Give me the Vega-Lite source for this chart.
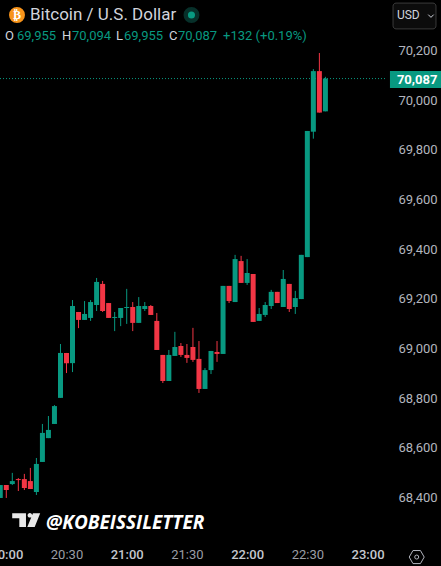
{
  "$schema": "https://vega.github.io/schema/vega-lite/v6.json",
  "description": "Bitcoin / U.S. Dollar 3 minute candles with TradingView style readout",
  "width": 441,
  "height": 566,
  "padding": 0,
  "autosize": "none",
  "background": "#000000",
  "config": {
    "view": {"stroke": null},
    "text": {"font": "Roboto"}
  },
  "datasets": {
    "candles": [
      {"time": "2024-06-04T19:57:00Z", "open": 68398, "high": 68450, "low": 68398, "close": 68450},
      {"time": "2024-06-04T20:00:00Z", "open": 68450, "high": 68450, "low": 68398, "close": 68430},
      {"time": "2024-06-04T20:03:00Z", "open": 68454, "high": 68499, "low": 68450, "close": 68466},
      {"time": "2024-06-04T20:06:00Z", "open": 68474, "high": 68478, "low": 68426, "close": 68470},
      {"time": "2024-06-04T20:09:00Z", "open": 68474, "high": 68495, "low": 68430, "close": 68438},
      {"time": "2024-06-04T20:12:00Z", "open": 68466, "high": 68519, "low": 68434, "close": 68434},
      {"time": "2024-06-04T20:15:00Z", "open": 68422, "high": 68559, "low": 68410, "close": 68535},
      {"time": "2024-06-04T20:18:00Z", "open": 68543, "high": 68696, "low": 68543, "close": 68660},
      {"time": "2024-06-04T20:21:00Z", "open": 68639, "high": 68728, "low": 68639, "close": 68672},
      {"time": "2024-06-04T20:24:00Z", "open": 68696, "high": 68772, "low": 68696, "close": 68768},
      {"time": "2024-06-04T20:27:00Z", "open": 68801, "high": 69018, "low": 68801, "close": 68982},
      {"time": "2024-06-04T20:30:00Z", "open": 68982, "high": 68982, "low": 68901, "close": 68941},
      {"time": "2024-06-04T20:33:00Z", "open": 68941, "high": 69195, "low": 68905, "close": 69171},
      {"time": "2024-06-04T20:36:00Z", "open": 69147, "high": 69147, "low": 69082, "close": 69115},
      {"time": "2024-06-04T20:39:00Z", "open": 69115, "high": 69191, "low": 69115, "close": 69139},
      {"time": "2024-06-04T20:42:00Z", "open": 69123, "high": 69195, "low": 69111, "close": 69187},
      {"time": "2024-06-04T20:45:00Z", "open": 69175, "high": 69284, "low": 69151, "close": 69268},
      {"time": "2024-06-04T20:48:00Z", "open": 69260, "high": 69272, "low": 69147, "close": 69151},
      {"time": "2024-06-04T20:51:00Z", "open": 69183, "high": 69183, "low": 69123, "close": 69123},
      {"time": "2024-06-04T20:54:00Z", "open": 69123, "high": 69147, "low": 69070, "close": 69127},
      {"time": "2024-06-04T20:57:00Z", "open": 69123, "high": 69163, "low": 69090, "close": 69163},
      {"time": "2024-06-04T21:00:00Z", "open": 69163, "high": 69240, "low": 69099, "close": 69167},
      {"time": "2024-06-04T21:03:00Z", "open": 69167, "high": 69187, "low": 69070, "close": 69103},
      {"time": "2024-06-04T21:06:00Z", "open": 69103, "high": 69207, "low": 69103, "close": 69171},
      {"time": "2024-06-04T21:09:00Z", "open": 69159, "high": 69187, "low": 69151, "close": 69171},
      {"time": "2024-06-04T21:12:00Z", "open": 69171, "high": 69175, "low": 69135, "close": 69135},
      {"time": "2024-06-04T21:15:00Z", "open": 69111, "high": 69143, "low": 68994, "close": 68994},
      {"time": "2024-06-04T21:18:00Z", "open": 68974, "high": 68974, "low": 68861, "close": 68869},
      {"time": "2024-06-04T21:21:00Z", "open": 68869, "high": 68994, "low": 68869, "close": 68974},
      {"time": "2024-06-04T21:24:00Z", "open": 68970, "high": 69067, "low": 68970, "close": 69006},
      {"time": "2024-06-04T21:27:00Z", "open": 69010, "high": 69022, "low": 68966, "close": 68974},
      {"time": "2024-06-04T21:30:00Z", "open": 68974, "high": 69018, "low": 68942, "close": 68962},
      {"time": "2024-06-04T21:33:00Z", "open": 69006, "high": 69083, "low": 68946, "close": 68954},
      {"time": "2024-06-04T21:36:00Z", "open": 68958, "high": 69030, "low": 68821, "close": 68837},
      {"time": "2024-06-04T21:39:00Z", "open": 68837, "high": 68921, "low": 68837, "close": 68913},
      {"time": "2024-06-04T21:42:00Z", "open": 68913, "high": 68990, "low": 68897, "close": 68990},
      {"time": "2024-06-04T21:45:00Z", "open": 68986, "high": 69030, "low": 68946, "close": 68978},
      {"time": "2024-06-04T21:48:00Z", "open": 68978, "high": 69252, "low": 68978, "close": 69252},
      {"time": "2024-06-04T21:51:00Z", "open": 69252, "high": 69252, "low": 69183, "close": 69191},
      {"time": "2024-06-04T21:54:00Z", "open": 69187, "high": 69377, "low": 69187, "close": 69360},
      {"time": "2024-06-04T21:57:00Z", "open": 69352, "high": 69373, "low": 69264, "close": 69264},
      {"time": "2024-06-04T22:00:00Z", "open": 69264, "high": 69360, "low": 69256, "close": 69304},
      {"time": "2024-06-04T22:03:00Z", "open": 69300, "high": 69300, "low": 69107, "close": 69107},
      {"time": "2024-06-04T22:06:00Z", "open": 69111, "high": 69163, "low": 69111, "close": 69139},
      {"time": "2024-06-04T22:09:00Z", "open": 69135, "high": 69187, "low": 69127, "close": 69175},
      {"time": "2024-06-04T22:12:00Z", "open": 69171, "high": 69236, "low": 69159, "close": 69228},
      {"time": "2024-06-04T22:15:00Z", "open": 69228, "high": 69228, "low": 69183, "close": 69183},
      {"time": "2024-06-04T22:18:00Z", "open": 69167, "high": 69316, "low": 69167, "close": 69280},
      {"time": "2024-06-04T22:21:00Z", "open": 69260, "high": 69260, "low": 69147, "close": 69159},
      {"time": "2024-06-04T22:24:00Z", "open": 69167, "high": 69232, "low": 69139, "close": 69203},
      {"time": "2024-06-04T22:27:00Z", "open": 69199, "high": 69377, "low": 69199, "close": 69377},
      {"time": "2024-06-04T22:30:00Z", "open": 69368, "high": 69876, "low": 69368, "close": 69876},
      {"time": "2024-06-04T22:33:00Z", "open": 69873, "high": 70125, "low": 69845, "close": 70117},
      {"time": "2024-06-04T22:36:00Z", "open": 70117, "high": 70190, "low": 69950, "close": 69950},
      {"time": "2024-06-04T22:39:00Z", "open": 69955, "high": 70094, "low": 69955, "close": 70087}
    ]
  },
  "encoding": {
    "x": {
      "field": "time",
      "type": "temporal",
      "title": null,
      "scale": {
        "type": "utc",
        "domain": [
          {"year": 2024, "month": 6, "date": 4, "hours": 19, "minutes": 56, "seconds": 52, "utc": true},
          {"year": 2024, "month": 6, "date": 4, "hours": 23, "minutes": 36, "seconds": 36, "utc": true}
        ],
        "nice": false,
        "padding": 0
      },
      "axis": {
        "orient": "bottom",
        "offset": -20,
        "domain": false,
        "ticks": false,
        "grid": false,
        "format": "%H:%M",
        "values": [
          {"year": 2024, "month": 6, "date": 4, "hours": 20, "minutes": 0, "utc": true},
          {"year": 2024, "month": 6, "date": 4, "hours": 20, "minutes": 30, "utc": true},
          {"year": 2024, "month": 6, "date": 4, "hours": 21, "minutes": 0, "utc": true},
          {"year": 2024, "month": 6, "date": 4, "hours": 21, "minutes": 30, "utc": true},
          {"year": 2024, "month": 6, "date": 4, "hours": 22, "minutes": 0, "utc": true},
          {"year": 2024, "month": 6, "date": 4, "hours": 22, "minutes": 30, "utc": true},
          {"year": 2024, "month": 6, "date": 4, "hours": 23, "minutes": 0, "utc": true}
        ],
        "labelFont": "Roboto",
        "labelFontSize": 13,
        "labelColor": {"condition": {"test": "utcminutes(datum.value) === 0", "value": "#c4c7ce"}, "value": "#9a9da5"},
        "labelFontWeight": {"condition": {"test": "utcminutes(datum.value) === 0", "value": 500}, "value": 400},
        "labelPadding": 2,
        "labelOverlap": false
      }
    },
    "y": {
      "field": "price",
      "type": "quantitative",
      "title": null,
      "scale": {"domain": [68124, 70403.4], "nice": false, "zero": false},
      "axis": {
        "orient": "right",
        "offset": -43,
        "domain": false,
        "ticks": false,
        "grid": false,
        "values": [68400, 68600, 68800, 69000, 69200, 69400, 69600, 69800, 70000, 70200],
        "format": ",d",
        "labelFont": "Roboto",
        "labelFontSize": 13,
        "labelColor": "#b2b5be",
        "labelPadding": 0
      }
    }
  },
  "layer": [
    {
      "data": {"values": [{"time": "2024-06-04T19:56:52Z", "end": "2024-06-04T23:09:12Z", "price": 70087}]},
      "mark": {"type": "rule", "color": "#089981", "strokeDash": [1, 2], "strokeWidth": 1},
      "encoding": {"x2": {"field": "end"}}
    },
    {
      "data": {"name": "candles"},
      "mark": {"type": "rule", "strokeWidth": 1},
      "encoding": {
        "y": {"field": "low", "type": "quantitative"},
        "y2": {"field": "high"},
        "color": {"condition": {"test": "datum.close >= datum.open", "value": "#089981"}, "value": "#f23645"}
      }
    },
    {
      "data": {"name": "candles"},
      "mark": {"type": "bar", "size": 5},
      "encoding": {
        "y": {"field": "open", "type": "quantitative"},
        "y2": {"field": "close"},
        "color": {"condition": {"test": "datum.close >= datum.open", "value": "#089981"}, "value": "#f23645"}
      }
    },
    {
      "data": {"values": [{"time": "2024-06-04T20:05:20Z", "price": 70343}]},
      "mark": {"type": "point", "filled": true, "size": 254, "color": "#f7931a", "opacity": 1}
    },
    {
      "data": {"values": [{"time": "2024-06-04T20:05:20Z", "price": 70343, "label": "₿"}]},
      "mark": {"type": "text", "color": "#ffffff", "fontSize": 12, "fontWeight": "bold", "font": "DejaVu Sans", "align": "center", "baseline": "middle"},
      "encoding": {"text": {"field": "label"}}
    },
    {
      "data": {"values": [{"time": "2024-06-04T20:11:48Z", "price": 70341, "label": "Bitcoin / U.S. Dollar"}]},
      "mark": {"type": "text", "color": "#d1d4dc", "fontSize": 17, "font": "Roboto", "align": "left", "baseline": "middle"},
      "encoding": {"text": {"field": "label"}}
    },
    {
      "data": {"values": [{"time": "2024-06-04T21:32:16Z", "price": 70343}]},
      "mark": {"type": "point", "filled": true, "size": 254, "color": "#07302a", "opacity": 1}
    },
    {
      "data": {"values": [{"time": "2024-06-04T21:32:16Z", "price": 70343}]},
      "mark": {"type": "point", "filled": true, "size": 50, "color": "#089981", "opacity": 1}
    },
    {
      "data": {"values": [
        {"time": "2024-06-04T19:59:21Z", "price": 70258, "label": "O"},
        {"time": "2024-06-04T20:27:45Z", "price": 70258, "label": "H"},
        {"time": "2024-06-04T20:54:40Z", "price": 70258, "label": "L"},
        {"time": "2024-06-04T21:21:06Z", "price": 70258, "label": "C"}
      ]},
      "mark": {"type": "text", "color": "#d1d4dc", "fontSize": 13, "font": "Roboto", "align": "left", "baseline": "middle"},
      "encoding": {"text": {"field": "label"}}
    },
    {
      "data": {"values": [
        {"time": "2024-06-04T20:05:20Z", "price": 70258, "label": "69,955"},
        {"time": "2024-06-04T20:32:44Z", "price": 70258, "label": "70,094"},
        {"time": "2024-06-04T20:58:38Z", "price": 70258, "label": "69,955"},
        {"time": "2024-06-04T21:25:33Z", "price": 70258, "label": "70,087"},
        {"time": "2024-06-04T21:48:00Z", "price": 70258, "label": "+132 (+0.19%)"}
      ]},
      "mark": {"type": "text", "color": "#089981", "fontSize": 13, "font": "Roboto", "align": "left", "baseline": "middle"},
      "encoding": {"text": {"field": "label"}}
    },
    {
      "data": {"values": [{"time": "2024-06-04T23:12:42Z", "end": "2024-06-04T23:34:06Z", "price": 70391, "low": 70287}]},
      "mark": {"type": "rect", "fill": "#0c0c0c", "stroke": "#3a3a3a", "strokeWidth": 1, "cornerRadius": 3},
      "encoding": {"x2": {"field": "end"}, "y2": {"field": "low"}}
    },
    {
      "data": {"values": [{"time": "2024-06-04T23:14:37Z", "price": 70341, "label": "USD"}]},
      "mark": {"type": "text", "color": "#d1d4dc", "fontSize": 12, "font": "Roboto", "align": "left", "baseline": "middle"},
      "encoding": {"text": {"field": "label"}}
    },
    {
      "data": {"values": [{"time": "2024-06-04T23:31:36Z", "price": 70339}]},
      "mark": {"type": "point", "shape": "M-1 -0.5 L0 0.5 L1 -0.5", "filled": false, "size": 30, "color": "#d1d4dc", "strokeWidth": 1, "opacity": 1}
    },
    {
      "data": {"values": [{"time": "2024-06-04T23:11:10Z", "end": "2024-06-04T23:36:36Z", "price": 70117, "low": 70049}]},
      "mark": {"type": "rect", "fill": "#089981"},
      "encoding": {"x2": {"field": "end"}, "y2": {"field": "low"}}
    },
    {
      "data": {"values": [{"time": "2024-06-04T23:14:37Z", "price": 70083, "label": "70,087"}]},
      "mark": {"type": "text", "color": "#ffffff", "fontSize": 13, "fontWeight": "bold", "font": "Roboto", "align": "left", "baseline": "middle"},
      "encoding": {"text": {"field": "label"}}
    },
    {
      "data": {"values": [{"time": "2024-06-04T20:09:40Z", "price": 68309}]},
      "mark": {
        "type": "point",
        "shape": "M-0.93 -0.47 H0.02 V0.47 H-0.44 V-0.13 H-0.93 Z M0.13 -0.33 A0.16 0.16 0 1 1 0.45 -0.33 A0.16 0.16 0 1 1 0.13 -0.33 Z M0.5 -0.47 L1 -0.47 L0.62 0.47 L0.11 0.47 Z",
        "filled": true,
        "size": 841,
        "color": "#e8e8e8",
        "opacity": 1
      }
    },
    {
      "data": {"values": [{"time": "2024-06-04T20:19:47Z", "price": 68297, "label": "@KOBEISSILETTER"}]},
      "mark": {"type": "text", "color": "#ffffff", "fontSize": 19, "fontWeight": "bold", "fontStyle": "italic", "font": "Open Sans", "align": "left", "baseline": "middle"},
      "encoding": {"text": {"field": "label"}}
    },
    {
      "data": {"values": [{"time": "2024-06-04T23:24:30Z", "price": 68160}]},
      "mark": {"type": "point", "shape": "M-1 0 L-0.5 -0.87 L0.5 -0.87 L1 0 L0.5 0.87 L-0.5 0.87 Z", "filled": false, "size": 225, "color": "#b2b5be", "strokeWidth": 1, "opacity": 1}
    },
    {
      "data": {"values": [{"time": "2024-06-04T23:24:30Z", "price": 68160}]},
      "mark": {"type": "point", "shape": "circle", "filled": false, "size": 16, "color": "#b2b5be", "strokeWidth": 1, "opacity": 1}
    }
  ]
}
